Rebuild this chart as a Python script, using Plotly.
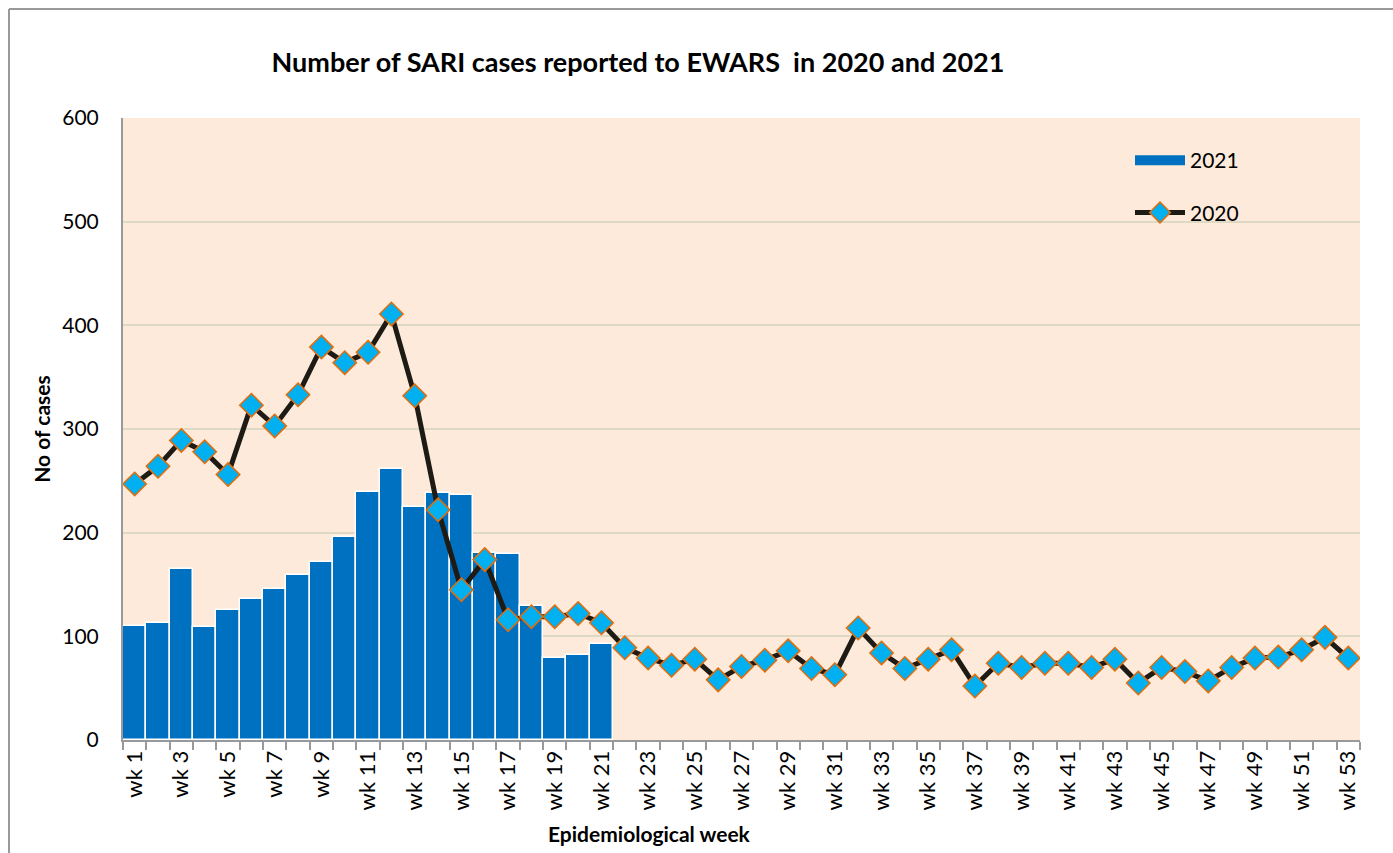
import plotly.graph_objects as go

weeks = [f"wk {i}" for i in range(1, 54)]
week_num = list(range(1, 54))

cases_2021 = [110, 113, 165, 109, 125, 136, 146, 159, 172, 196, 239, 261, 225, 238, 236,
              180, 179, 129, 79, 82, 93]

cases_2020 = [247, 264, 289, 278, 256, 323, 303, 333, 379, 364, 374, 411, 332, 222, 145,
              174, 116, 119, 119, 122, 113, 89, 79, 72, 78, 58, 71, 77, 86, 69,
              63, 108, 84, 69, 78, 87, 52, 74, 70, 74, 74, 70, 78, 55, 70,
              66, 57, 70, 79, 80, 87, 99, 79]

y_ticks = [0, 100, 200, 300, 400, 500, 600]

L, R, T, B = 123, 33, 118, 113
W, H = 1393, 853
pw, ph = W - L - R, H - T - B

BAR_COLOR = "#0070C0"

fig = go.Figure()
fig.add_trace(go.Bar(
    x=week_num[:len(cases_2021)], y=cases_2021, name="2021",
    marker=dict(color=BAR_COLOR, line=dict(color="white", width=1.5)),
    showlegend=False,
))
# legend entry for 2021 drawn as a wide bar swatch
fig.add_trace(go.Scatter(
    x=[None], y=[None], name="2021", mode="lines", legendgroup="a",
    line=dict(color=BAR_COLOR, width=13),
))
fig.add_trace(go.Scatter(
    x=week_num, y=cases_2020, name="2020", mode="lines+markers", legendgroup="b",
    line=dict(color="#1E1A14", width=5),
    marker=dict(symbol="diamond", size=18, color="#00B0F0",
                line=dict(color="#E46C0A", width=1.5)),
))

font_family = "Lato, Open Sans, Liberation Sans, Arial, sans-serif"

fig.update_layout(
    width=W, height=H,
    margin=dict(l=L, r=R, t=T, b=B),
    paper_bgcolor="white", plot_bgcolor="#FDEADA",
    bargap=0,
    showlegend=True,
    legend=dict(x=(1130 - L) / pw, y=1 - (140 - T) / ph, xanchor="left", yanchor="top",
                bgcolor="rgba(0,0,0,0)", font=dict(size=21, family=font_family, color="black"),
                tracegroupgap=22, itemwidth=50),
    title=dict(text="<b>Number of SARI cases reported to EWARS  in 2020 and 2021</b>",
               x=638 / W, xanchor="center", y=1 - 63 / H, yanchor="middle",
               font=dict(size=27, family=font_family, color="black")),
    font=dict(family=font_family, color="black"),
    xaxis=dict(
        range=[0.5, 53.5], tickmode="array",
        tickvals=week_num[::2], ticktext=weeks[::2], tickangle=-90,
        tickfont=dict(size=22), ticks="", showgrid=False,
        showline=True, linecolor="#999999", linewidth=2,
        minor=dict(tickmode="array", tickvals=[i + 0.5 for i in range(0, 54)],
                   ticks="outside", ticklen=8, tickcolor="#999999", tickwidth=2, showgrid=False),
        zeroline=False,
    ),
    yaxis=dict(
        range=[0, 600], tickvals=y_ticks, tickfont=dict(size=21),
        showgrid=True, gridcolor="#DDD9C3", gridwidth=2,
        showline=True, linecolor="#999999", linewidth=2, ticks="",
        ticklabelstandoff=18,
        title=dict(text="<b>No of cases</b>", font=dict(size=21), standoff=6),
        zeroline=False,
    ),
)

# x-axis title (offset left of the plot centre, as in the original)
fig.add_annotation(text="<b>Epidemiological week</b>", xref="paper", yref="paper",
                   x=(649 - L) / pw, y=-(833 - (H - B)) / ph, xanchor="center", yanchor="middle",
                   showarrow=False, font=dict(size=21, family=font_family, color="black"))

# outer chart border (top and left visible)
fig.add_shape(type="line", xref="paper", yref="paper",
              x0=(9 - L) / pw, x1=(W + 5 - L) / pw, y0=1 + (T - 9) / ph, y1=1 + (T - 9) / ph,
              line=dict(color="#999999", width=2))
fig.add_shape(type="line", xref="paper", yref="paper",
              x0=(9 - L) / pw, x1=(9 - L) / pw, y0=1 + (T - 9) / ph, y1=-(B + 5) / ph,
              line=dict(color="#999999", width=2))

fig.write_html("out.html", config={"displayModeBar": False},
               post_script="document.body.style.margin='0px';document.body.style.overflow='hidden';")
